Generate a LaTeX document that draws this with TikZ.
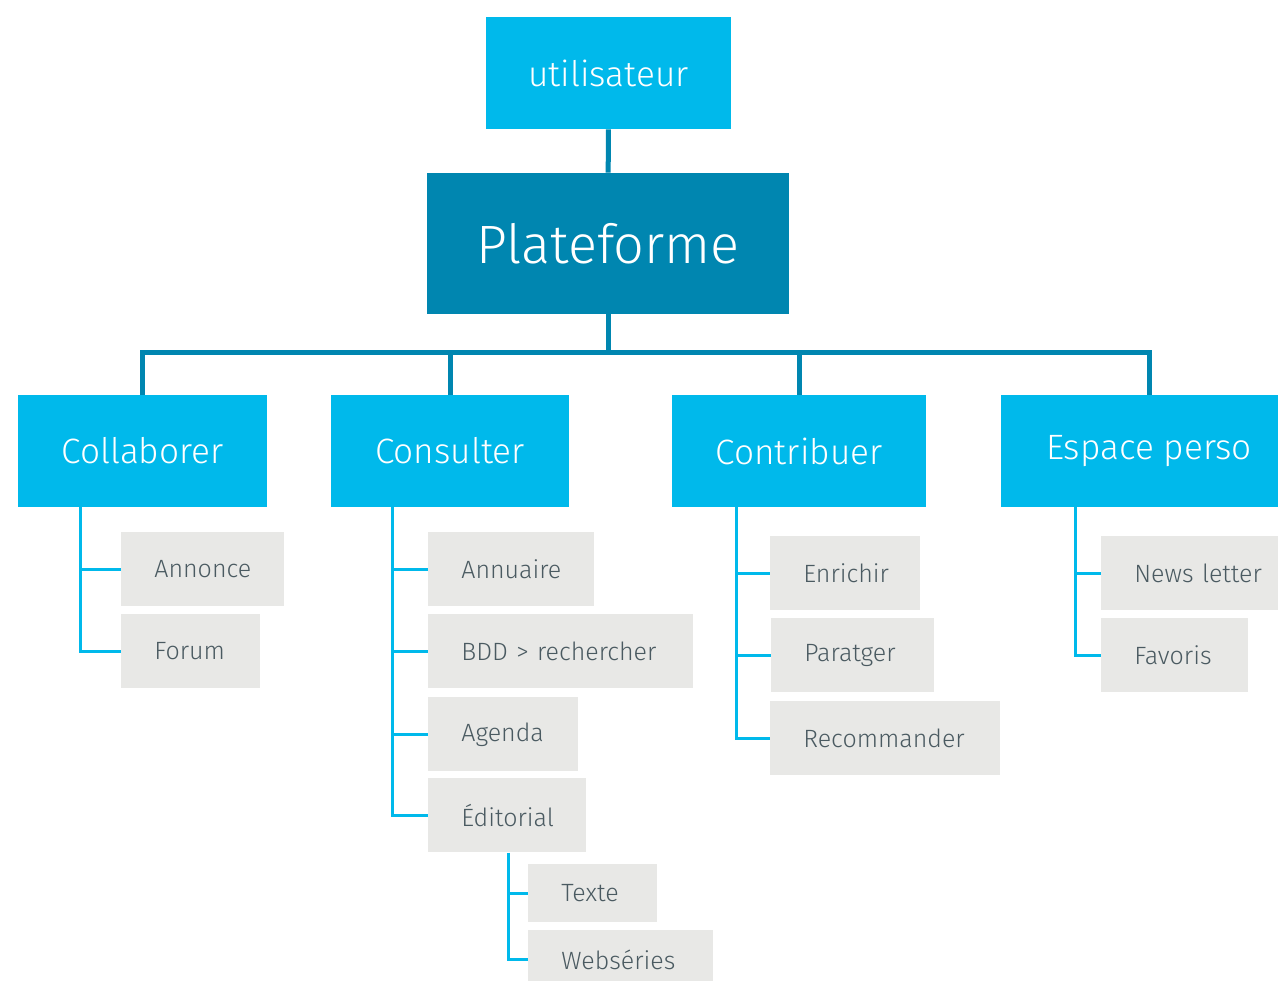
\documentclass[tikz,border=0pt]{standalone}
\usepackage{fontspec}
\setmainfont{Fira Sans}[UprightFont=* Light]
\usetikzlibrary{positioning, calc}
\definecolor{skyblue}{HTML}{00B9EB}
\definecolor{deepblue}{HTML}{0086B0}
\definecolor{leafgray}{HTML}{E8E8E6}
\definecolor{leaftext}{HTML}{4A5A61}

\tikzset{
    topbox/.style={fill=skyblue, text=white, inner sep=0pt, minimum height=56pt,
                   font=\fontsize{17.6}{21}\selectfont},
    leaf/.style={fill=leafgray, text=leaftext, anchor=north west, inner xsep=16.5pt, inner ysep=0pt,
                 minimum height=37pt, align=left, font=\fontsize{12.5}{15}\selectfont},
    trunk/.style={draw=deepblue, line width=2.5pt},
    branch/.style={draw=skyblue, line width=1.5pt}
}

\begin{document}
\begin{tikzpicture}[x=0.5pt, y=-0.5pt]
    \useasboundingbox (0,0) rectangle (1278,980);

    % top of the tree
    \node[topbox, minimum width=122.5pt] (user) at (608.5,73) {utilisateur};
    \node[fill=deepblue, text=white, inner sep=0pt, minimum width=181pt, minimum height=70.5pt,
          font=\fontsize{27}{32}\selectfont] (plat) at (608,243.5) {Plateforme};
    \coordinate (bus) at (608,352);

    % second level
    \node[topbox, minimum width=124.5pt] (collab) at (142.5,451) {Collaborer};
    \node[topbox, minimum width=119pt] (consult) at (450,451) {Consulter};
    \node[topbox, minimum width=127pt] (contrib) at (799,451) {Contribuer};
    \node[topbox, minimum width=148pt] (espace) at (1149,451) {Espace perso};

    \draw[trunk] (user) -- (plat);
    \draw[trunk] (plat.south) -- (bus);
    \draw[trunk] (collab.north) |- (bus) -| (espace.north);
    \draw[trunk] (consult.north) -- (consult.north |- bus);
    \draw[trunk] (contrib.north) -- (contrib.north |- bus);

    % Collaborer
    \node[leaf, text width=48.5pt] (annonce) at (121,532) {Annonce};
    \node[leaf, text width=36.5pt] (forum) at (121,614) {Forum};
    \draw[branch] ([xshift=31.5pt]collab.south west) |- (annonce.west);
    \draw[branch] ([xshift=31.5pt]collab.south west) |- (forum.west);

    % Consulter
    \node[leaf, text width=50pt] (annuaire) at (428,532) {Annuaire};
    \node[leaf, text width=99.5pt] (bdd) at (428,614) {\mbox{BDD > rechercher}};
    \node[leaf, text width=42pt] (agenda) at (428,697) {Agenda};
    \node[leaf, text width=46pt] (edito) at (428,778) {Éditorial};
    \foreach \n in {annuaire, bdd, agenda, edito}
        \draw[branch] ([xshift=31pt]consult.south west) |- (\n.west);

    % Editorial
    \node[leaf, text width=31.5pt, minimum height=29pt] (texte) at (528,864) {Texte};
    \node[leaf, text width=59.5pt, minimum height=29pt] (webseries) at (528,930) {Webséries};
    \draw[branch] ([xshift=40pt]edito.south west) |- (texte.west);
    \draw[branch] ([xshift=40pt]edito.south west) |- (webseries.west);

    % Contribuer
    \node[leaf, text width=42pt] (enrichir) at (770,536) {Enrichir};
    \node[leaf, text width=48.5pt] (partager) at (771,618) {Paratger};
    \node[leaf, text width=82pt] (recommander) at (770,701) {Recommander};
    \foreach \n in {enrichir, partager, recommander}
        \draw[branch] ([xshift=32.5pt]contrib.south west) |- (\n.west);

    % Espace perso
    \node[leaf, text width=67pt] (news) at (1101,536) {News letter};
    \node[leaf, text width=40.5pt] (favoris) at (1101,618) {Favoris};
    \draw[branch] ([xshift=37.5pt]espace.south west) |- (news.west);
    \draw[branch] ([xshift=37.5pt]espace.south west) |- (favoris.west);
\end{tikzpicture}
\end{document}
